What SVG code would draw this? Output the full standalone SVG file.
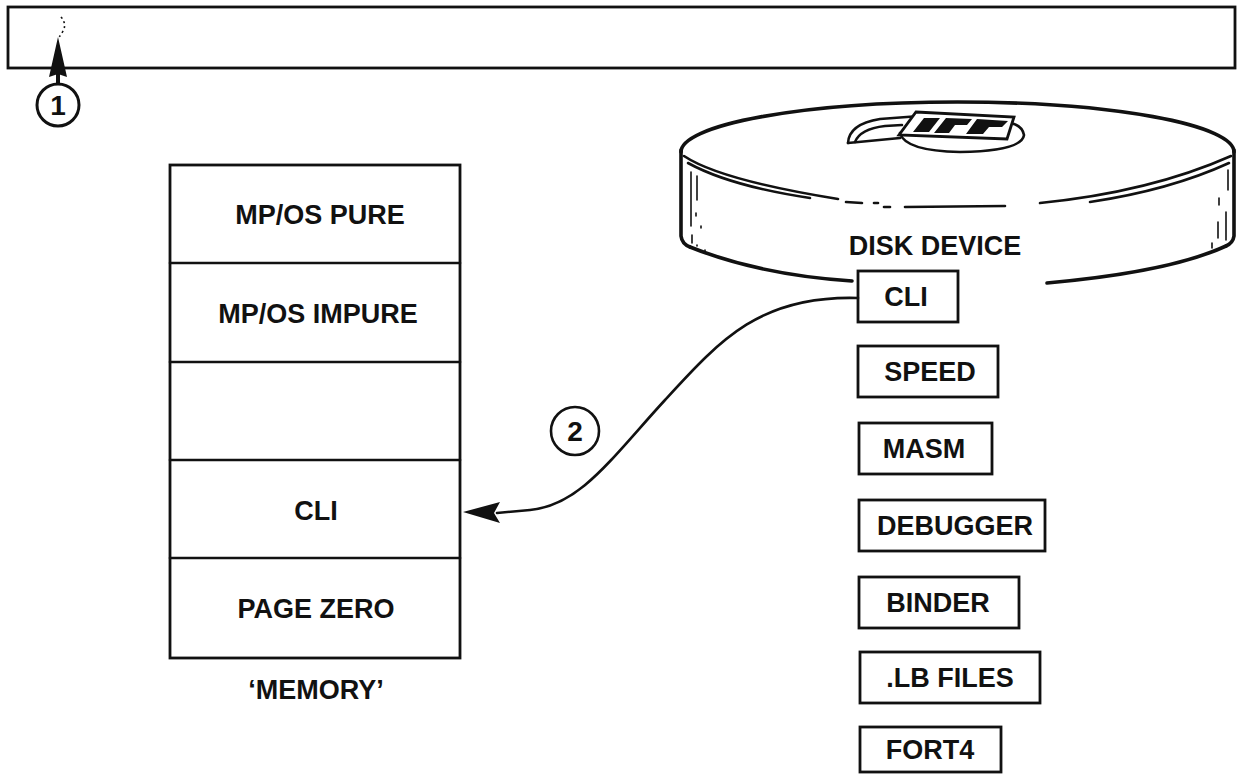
<svg xmlns="http://www.w3.org/2000/svg" width="1240" height="777" viewBox="0 0 1240 777">
  <style>
    .ln { fill: none; stroke: #111; stroke-width: 2.6; stroke-linecap: round; stroke-linejoin: round; }
    .thick { fill: none; stroke: #111; stroke-width: 3.6; stroke-linecap: round; }
    .thin { fill: none; stroke: #111; stroke-width: 1.6; stroke-linecap: round; }
    .box { fill: #fff; stroke: #111; stroke-width: 2.8; }
    .lbl { font-family: "Liberation Sans", Arial, sans-serif; font-weight: bold; font-size: 27px; fill: #111; text-anchor: middle; }
    .num { font-family: "Liberation Sans", Arial, sans-serif; font-weight: bold; font-size: 28px; fill: #111; text-anchor: middle; }
  </style>
  <rect width="1240" height="777" fill="#fff"/>

  <!-- top bar -->
  <g id="top-bar">
    <rect class="box" x="8" y="7" width="1227" height="61"/>
    <path d="M61 17 Q67 24 63 31 Q61 35 59 37" fill="none" stroke="#111" stroke-width="1.6" stroke-dasharray="2 3"/>
  </g>

  <!-- marker 1 with upward arrow -->
  <g id="step-1">
    <line x1="58" y1="72" x2="58" y2="84" stroke="#111" stroke-width="4"/>
    <polygon points="58,37 67,77 58,74 49,77" fill="#111"/>
    <circle cx="58" cy="105" r="21" fill="#fff" stroke="#111" stroke-width="3"/>
    <text class="num" x="58" y="115">1</text>
  </g>

  <!-- memory stack -->
  <g id="memory">
    <rect class="box" x="170" y="165" width="290" height="493"/>
    <line class="ln" x1="170" y1="263" x2="460" y2="263"/>
    <line class="ln" x1="170" y1="362" x2="460" y2="362"/>
    <line class="ln" x1="170" y1="460" x2="460" y2="460"/>
    <line class="ln" x1="170" y1="558" x2="460" y2="558"/>
    <text class="lbl" x="320" y="224" font-size="28">MP/OS PURE</text>
    <text class="lbl" x="318" y="323" font-size="28">MP/OS IMPURE</text>
    <text class="lbl" x="316" y="520" font-size="28">CLI</text>
    <text class="lbl" x="316" y="618" font-size="28">PAGE ZERO</text>
    <text class="lbl" x="316" y="699" font-size="28">‘MEMORY’</text>
  </g>

  <!-- disk device -->
  <g id="disk">
    <!-- top surface, back edge -->
    <path class="thick" d="M681 152 A276.5 50 0 0 1 1234 152"/>
    <!-- side walls -->
    <path class="thick" d="M681 150 L681 236 Q682 244 690 247"/>
    <path class="thick" d="M1234 150 L1234 236 Q1233 243 1226 246"/>
    <!-- rim front edge -->
    <path class="ln" d="M684 156 Q720 180 838 199"/>
    <path class="ln" d="M688 163 Q730 186 810 198"/>
    <path class="ln" d="M846 202 L862 203"/>
    <path class="ln" d="M874 203 L878 203"/>
    <path class="ln" d="M884 207 L890 207"/>
    <path class="ln" d="M905 207 L1005 206"/>
    <path class="ln" d="M1040 203 Q1150 192 1231 156"/>
    <path class="ln" d="M1090 202 Q1170 190 1229 163"/>
    <!-- bottom edge, broken by the CLI entry -->
    <path class="thick" d="M690 247 Q760 275 852 281"/>
    <path class="thick" d="M1047 283 Q1170 272 1226 246"/>
    <!-- wall shading -->
    <path class="thin" d="M691 172 L691 226"/>
    <path class="thin" d="M697 176 L697 200"/>
    <path class="thin" d="M696 213 L696 216 M701 226 L701 228 M692 235 L692 243 M697 245 L697 246 M705 250 L705 251"/>
    <path class="thin" d="M1228 170 L1228 190 M1219 198 L1219 205 M1226 212 L1226 240 M1218 222 L1218 238 M1212 243 L1212 248"/>
    <!-- cartridge handle / badge on the lid -->
    <path class="ln" d="M848 143 Q849 124 880 119 L920 116"/>
    <path class="ln" d="M855 142 Q860 129 885 126 L902 125"/>
    <path class="ln" d="M848 143 L900 138"/>
    <path class="ln" d="M900 133 Q905 151 960 152 Q1022 151 1024 135 Q1022 125 1010 123"/>
    <polygon points="916,112 1014,117 1007,139 899,135" fill="#fff" stroke="#111" stroke-width="2.8"/>
    <polygon points="924,118 940,118 929,132 913,132" fill="#111"/>
    <polygon points="946,118 972,119 967,125 955,125 949,133 934,133" fill="#111"/>
    <polygon points="977,119 1008,121 1002,127 989,127 983,134 966,134" fill="#111"/>
    <text class="lbl" x="935" y="255" font-size="30">DISK DEVICE</text>
  </g>

  <!-- files on the disk -->
  <g id="file-cli">
    <rect class="box" x="858" y="271" width="100" height="51"/>
    <text class="lbl" x="906" y="306">CLI</text>
  </g>
  <g id="file-speed">
    <rect class="box" x="858" y="346" width="140" height="51"/>
    <text class="lbl" x="930" y="381">SPEED</text>
  </g>
  <g id="file-masm">
    <rect class="box" x="859" y="423" width="133" height="51"/>
    <text class="lbl" x="924" y="458">MASM</text>
  </g>
  <g id="file-debugger">
    <rect class="box" x="859" y="500" width="186" height="51"/>
    <text class="lbl" x="955" y="535">DEBUGGER</text>
  </g>
  <g id="file-binder">
    <rect class="box" x="859" y="577" width="160" height="51"/>
    <text class="lbl" x="938" y="612">BINDER</text>
  </g>
  <g id="file-lb">
    <rect class="box" x="860" y="652" width="180" height="51"/>
    <text class="lbl" x="950" y="687">.LB FILES</text>
  </g>
  <g id="file-fort4">
    <rect class="box" x="860" y="727" width="141" height="45"/>
    <text class="lbl" x="930" y="759">FORT4</text>
  </g>

  <!-- load path from disk CLI into memory -->
  <g id="connectors">
    <path class="ln" d="M858 298 C760 295 720 340 665 400 C610 460 580 505 530 510 L497 513"/>
    <polygon points="463,512 500,502 494,513 500,523" fill="#111"/>
  </g>

  <g id="step-2">
    <circle cx="575" cy="431" r="24" fill="#fff" stroke="#111" stroke-width="2.6"/>
    <text class="num" x="575" y="441">2</text>
  </g>
</svg>
